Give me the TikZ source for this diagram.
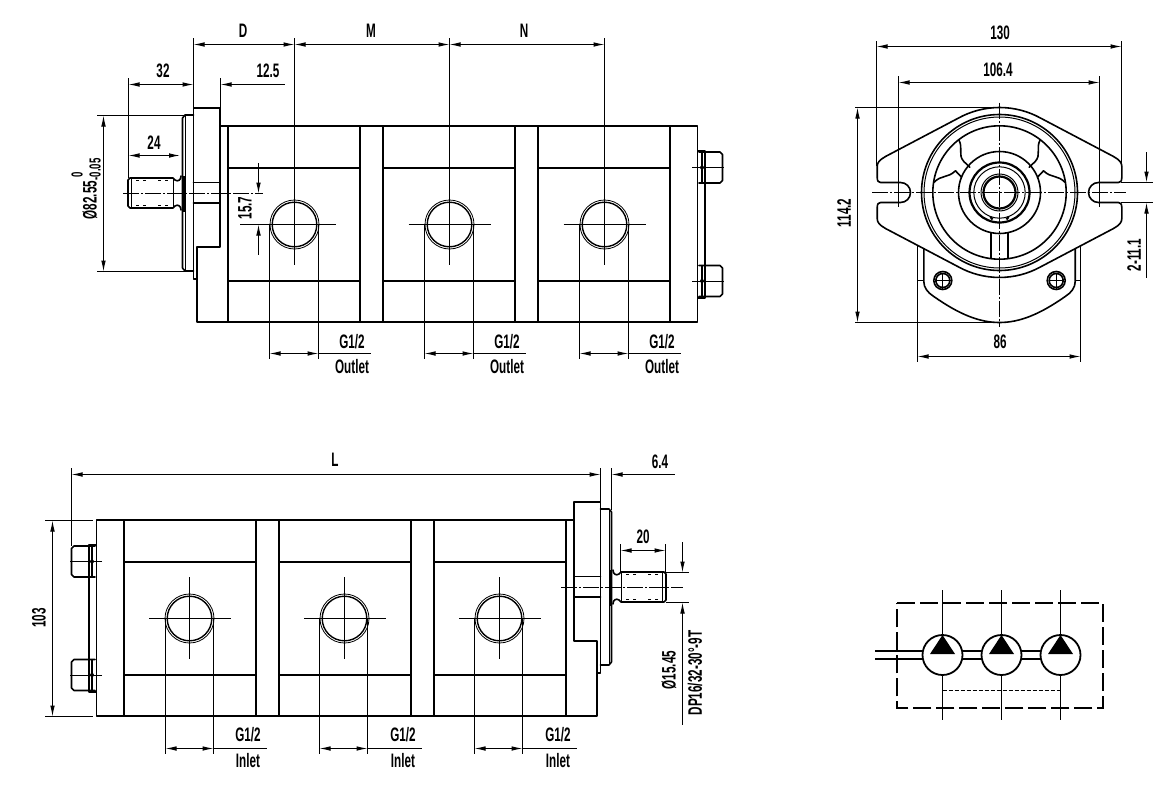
\documentclass[tikz,border=0pt]{standalone}
\usepackage{fontspec}
\setmainfont{Liberation Sans}[FakeStretch=0.6,BoldFont={Liberation Sans Bold},BoldFeatures={FakeStretch=0.6}]
\usetikzlibrary{arrows.meta}
\tikzset{
  >={Latex[length=11pt,width=4.6pt]},
  heavy/.style={line width=1.6pt,line join=round,line cap=round},
  extra/.style={line width=2pt},
  portline/.style={line width=1.4pt},
  fine/.style={line width=1pt},
  dimline/.style={line width=1pt},
  cl/.style={line width=1pt,dash pattern=on 16pt off 2pt on 2pt off 2pt},
  lab/.style={inner sep=0pt,font=\fontsize{19.5}{19.5}\selectfont\bfseries},
  labv/.style={lab,rotate=90},
  small/.style={inner sep=0pt,font=\fontsize{16}{16}\selectfont\bfseries},
  sym/.style={line width=1.8pt},
}
% side view of the pump, in the coordinates of the upper view
\newcommand\pumpview{%
  % body
  \draw[heavy] (220,126) -- (697.5,126) -- (697.5,322) -- (197,322) -- (197,279) -- (193.5,279) -- (193.5,108) -- (220,108) -- (220,247) -- (197,247) -- (197,279);
  \foreach \a/\b in {228/360,383/515,538/670}{
    \draw[extra] (\a,126) -- (\a,322);
    \draw[extra] (\b,126) -- (\b,322);
    \draw[heavy] (\a,168) -- (\b,168);
    \draw[heavy] (\a,281) -- (\b,281);
  }
  % flange bore
  \draw[heavy] (193.5,182.5) -- (220,182.5) (193.5,203) -- (220,203);
  % pilot
  \draw[heavy] (193.5,115) -- (185,115) -- (182.5,118) -- (182.5,268) -- (185,271) -- (193.5,271);
  \draw[fine] (185,115) -- (185,271);
  \draw[line width=2.8pt] (184,176) -- (184,212);
  % shaft
  \draw[heavy] (181,176) .. controls (181,180) and (178,182) .. (175,180) -- (173,178) -- (130,178) -- (128,180) -- (128,206) -- (130,208) -- (173,208) -- (175,206) .. controls (178,204) and (181,206) .. (181,210);
  \draw[line width=1.9pt] (131.5,178) -- (131.5,208);
  \draw[fine] (173,178) -- (173,208);
  \draw[fine,dash pattern=on 3pt off 4pt on 3pt off 12pt] (136,180.5) -- (172,180.5) (136,205.5) -- (172,205.5);
  % end plate and bolts
  \draw[heavy] (698,151) -- (705,151) -- (705,298) -- (698,298);
  \foreach \y in {167.5,281}{
    \draw[heavy] (699,\y-15.5) -- (720,\y-15.5) -- (722.5,\y-13) -- (722.5,\y+13) -- (720,\y+15.5) -- (699,\y+15.5);
    \draw[line width=1.8pt] (702,\y-15.5) -- (702,\y+15.5);
    \draw[fine] (692,\y) -- (724,\y);
    \fill (702,\y) circle (2);
  }
  % ports
  \foreach \x in {294.5,449.5,604.5}{
    \draw[line width=0.8pt] (\x,224.5) circle (24.5);
    \draw[portline] (\x,224.5) circle (22.3);
    \draw[fine] (\x-41,224.5) -- (\x+41,224.5);
    \draw[fine] (\x,183) -- (\x,265);
  }
}
% one half of the front view, centre at the origin
\newcommand\halffront{%
  \draw[heavy] (0,-85) arc[start angle=270,end angle=241,radius=85] -- (-114,-36) .. controls (-120,-32.5) and (-122.3,-30) .. (-122.3,-26) -- (-122.3,-15) .. controls (-122.3,-11.5) and (-121,-10) .. (-119,-10) -- (-99,-10) arc[start angle=270,end angle=450,radius=10] -- (-119,10) .. controls (-121,10) and (-122.3,11.5) .. (-122.3,15) -- (-122.3,26) .. controls (-122.3,30) and (-120,32.5) .. (-114,36) -- (-41.2,74.3) arc[start angle=119,end angle=90,radius=85];
  % webs of the cavities
  \draw[heavy] (-40.7,-52.7) .. controls (-36,-44) and (-42,-38) .. (-35.7,-31) -- (-29.7,-25.3);
  \draw[heavy] (-65.7,-10) .. controls (-58,-18) and (-52,-14) .. (-44,-21.7) -- (-38,-15.3);
  % slot below the hub
  \draw[heavy] (-8.5,40.7) -- (-8.5,65.7);
  \draw[line width=2.2pt] (-9,24.5) -- (-7,27);
  % rear body and bolt
  \draw[heavy] (-75.7,56.7) -- (-75.7,89) .. controls (-75.7,95) and (-72,100) .. (-65.7,104) .. controls (-40,122) and (-20,130) .. (0,130);
  \draw[fine] (-81.7,88) -- (-75.7,88);
  \draw[line width=1.6pt] (-56.7,88) circle (9);
  \draw[heavy] (-56.7,88) circle (7);
  \draw[fine] (-64.5,88) -- (-49,88) (-56.7,80) -- (-56.7,96);
}
\begin{document}
\begin{tikzpicture}[x=1pt,y=-1pt]
\useasboundingbox (0,0) rectangle (1172,787);
\fill[white] (0,0) rectangle (1172,787);

%% ---------- upper view
\pumpview
\draw[cl] (123,193.5) -- (263,193.5);
\draw[fine] (294.5,38) -- (294.5,183) (449.5,38) -- (449.5,183) (604.5,38) -- (604.5,183);
\draw[fine] (240,224.5) -- (254,224.5);
\draw[fine] (193.5,38) -- (193.5,108);
\draw[fine] (128.5,78) -- (128.5,178);
\draw[fine] (220.5,78) -- (220.5,108);
\draw[dimline,<->] (193.5,44.5) -- (294.5,44.5);
\draw[dimline,<->] (294.5,44.5) -- (449.5,44.5);
\draw[dimline,<->] (449.5,44.5) -- (604.5,44.5);
\draw[dimline,<->] (128.5,84.5) -- (193.5,84.5);
\draw[dimline,<-] (220.5,84.5) -- (285,84.5);
\draw[dimline,<->] (128.5,155.5) -- (180,155.5);
\draw[dimline] (97,115.5) -- (185,115.5) (97,271.5) -- (185,271.5);
\draw[dimline,<->] (103.5,115.5) -- (103.5,271.5);
\draw[dimline,<-] (258.5,193.5) -- (258.5,163);
\draw[dimline,<-] (258.5,224.5) -- (258.5,255);
\foreach \x/\lx/\e in {269.5/352/371,424.5/507/526,579.5/662/681}{
  \draw[fine] (\x,224.5) -- (\x,359) (\x+49,224.5) -- (\x+49,359);
  \draw[dimline,<->] (\x,353.5) -- (\x+49,353.5);
  \draw[dimline] (\x+49,353.5) -- (\e,353.5);
  \node[lab] at (\lx,342) {G1/2};
  \node[lab] at (\lx,367) {Outlet};
}
\node[lab] (tD) at (243,31) {D};
\node[lab] (tM) at (371,31) {M};
\node[lab] (tN) at (524,31) {N};
\node[lab] (t32) at (163,71) {32};
\node[lab] (t125) at (268,71) {12.5};
\node[lab] (t24) at (154,143) {24};
\node[labv] (td1) at (90,200) {Ø82.55};
\node[rotate=90,small] (td2) at (95,169.5) {-0.05};
\node[rotate=90,small] (td3) at (77,175) {0};
\node[labv] (t157) at (245,208) {15.7};

%% ---------- lower view
\begin{scope}[shift={(794,394)},xscale=-1]
\pumpview
\end{scope}
\draw[cl] (561,587.5) -- (683,587.5);
\draw[fine] (71.5,468) -- (71.5,546);
\draw[fine] (600.5,468) -- (600.5,502.5);
\draw[fine] (611.5,468) -- (611.5,510);
\draw[dimline,<->] (71.5,474.5) -- (600.5,474.5);
\draw[dimline,<-] (611.5,474.5) -- (675,474.5);
\draw[dimline] (45,520.5) -- (93,520.5) (45,716.5) -- (93,716.5);
\draw[dimline,<->] (52.5,520.5) -- (52.5,716.5);
\draw[fine] (620.5,544) -- (620.5,572.5) (665.5,544) -- (665.5,572.5);
\draw[dimline,<->] (620.5,550.5) -- (665.5,550.5);
\draw[dimline] (665.5,572.5) -- (689,572.5) (665.5,602.5) -- (689,602.5);
\draw[dimline,<-] (682.5,572.5) -- (682.5,542);
\draw[dimline,<-] (682.5,602.5) -- (682.5,725);
\foreach \x/\lx/\e in {165.5/248/267,319.5/403/421.5,474.5/558/576.5}{
  \draw[fine] (\x,618.5) -- (\x,754) (\x+48,618.5) -- (\x+48,754);
  \draw[dimline,<->] (\x,748.5) -- (\x+48,748.5);
  \draw[dimline] (\x+48,748.5) -- (\e,748.5);
  \node[lab] at (\lx,735) {G1/2};
  \node[lab] at (\lx,761) {Inlet};
}
\node[lab] (tL) at (335,460) {L};
\node[lab] (t64) at (660,462) {6.4};
\node[lab] (t20) at (643,537) {20};
\node[labv] (t103) at (39,618) {103};
\node[labv] (t1545) at (669,670) {Ø15.45};
\node[labv] (tdp) at (695,673) {DP16/32-30°-9T};

%% ---------- front view
\begin{scope}[shift={(999.5,192.5)}]
  \foreach \s in {1,-1}{
    \begin{scope}[xscale=\s]
      \halffront
    \end{scope}
  }
  \draw[heavy] (0,0) circle (78);
  \draw[fine] (0,0) circle (75.5);
  \draw[heavy] (0,0) circle (66.7);
  \draw[heavy] (0,0) circle (41);
  \draw[line width=2.2pt] (0,0) circle (30);
  \draw[fine] (0,0) circle (25.7);
  \draw[fine] (0,0) circle (18.5);
  \draw[line width=2.2pt] (0,0) circle (16);
  \draw[cl] (-127.3,0) -- (126,0);
  \draw[cl] (0,-90) -- (0,134);
\end{scope}
\draw[fine] (876.5,41) -- (876.5,166);
\draw[fine] (1121.5,41) -- (1121.5,166);
\draw[dimline,<->] (876.5,46.5) -- (1121.5,46.5);
\draw[fine] (898.5,76) -- (898.5,207);
\draw[fine] (1099.5,76) -- (1099.5,207);
\draw[dimline,<->] (898.5,82.5) -- (1099.5,82.5);
\draw[dimline] (855,107.5) -- (999.5,107.5) (855,322.5) -- (999.5,322.5);
\draw[dimline,<->] (857.5,107.5) -- (857.5,322.5);
\draw[fine] (917.5,245) -- (917.5,361.7) (1080.5,245) -- (1080.5,361.7);
\draw[dimline,<->] (917.5,356.5) -- (1080.5,356.5);
\draw[dimline] (1121,182.5) -- (1153,182.5) (1121,202.5) -- (1153,202.5);
\draw[dimline,<-] (1146.5,182.5) -- (1146.5,152);
\draw[dimline,<-] (1146.5,202.5) -- (1146.5,278);
\node[lab] (t130) at (1000,33) {130};
\node[lab] (t1064) at (998,70) {106.4};
\node[lab] (t86) at (1000,342) {86};
\node[labv] (t1142) at (844,213) {114.2};
\node[labv] (t111) at (1134,255) {2-11.1};

%% ---------- hydraulic symbol
\draw[sym,dash pattern=on 18pt off 5pt] (897.3,603.3) -- (1103.3,603.3) -- (1103.3,708.3) -- (897.3,708.3) -- cycle;
\draw[sym] (875,650.7) -- (1040,650.7) (875,659) -- (1040,659);
\foreach \x in {942.5,1001.5,1060.5}{
  \node[circle,draw,line width=1.8pt,fill=white,minimum size=40pt,inner sep=0pt] (p\x) at (\x,655) {};
  \fill (\x,635) -- (\x+12.5,654) -- (\x-12.5,654) -- cycle;
  \draw[sym] (\x,590) -- (\x,635) (\x,675) -- (\x,720);
}
\draw[fine,dash pattern=on 4pt off 2pt] (942.5,690.5) -- (1060.5,690.5);
\end{tikzpicture}
\end{document}
